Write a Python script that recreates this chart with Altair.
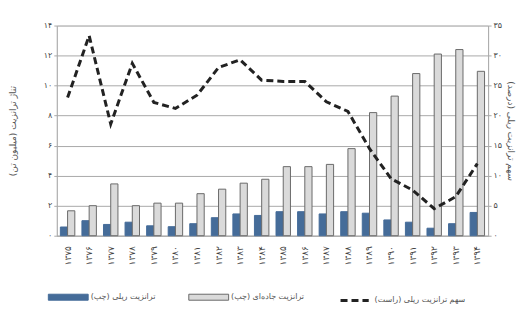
import altair as alt
import pandas as pd

years = ["۱۳۷۵", "۱۳۷۶", "۱۳۷۷", "۱۳۷۸", "۱۳۷۹", "۱۳۸۰", "۱۳۸۱", "۱۳۸۲", "۱۳۸۳", "۱۳۸۴",
         "۱۳۸۵", "۱۳۸۶", "۱۳۸۷", "۱۳۸۸", "۱۳۸۹", "۱۳۹۰", "۱۳۹۱", "۱۳۹۲", "۱۳۹۳", "۱۳۹۴"]
rail = [0.58, 1.0, 0.75, 0.9, 0.66, 0.6, 0.8, 1.2, 1.45, 1.35,
        1.6, 1.6, 1.45, 1.6, 1.5, 1.05, 0.9, 0.5, 0.8, 1.55]
road = [1.66, 2.0, 3.45, 2.0, 2.17, 2.17, 2.8, 3.1, 3.5, 3.76,
        4.6, 4.6, 4.75, 5.8, 8.2, 9.3, 10.8, 12.1, 12.4, 10.95]
share = [23.0, 33.3, 18.6, 28.7, 22.2, 21.2, 23.4, 28.0, 29.3, 25.9,
         25.7, 25.7, 22.3, 20.7, 14.5, 9.5, 7.6, 4.5, 6.5, 12.0]

s_rail = "ترانزیت ریلی (چپ)"
s_road = "ترانزیت جاده‌ای (چپ)"
s_share = "سهم ترانزیت ریلی (راست)"

bars_df = pd.DataFrame(
    [{"year": y, "series": s_rail, "value": v} for y, v in zip(years, rail)]
    + [{"year": y, "series": s_road, "value": v} for y, v in zip(years, road)]
)
line_df = pd.DataFrame({"year": years, "share": share, "series": s_share})

FONT = "DejaVu Sans"
persian_digits = ("replace(replace(replace(replace(replace(replace(replace(replace(replace(replace("
                  "datum.label,regexp('0','g'),'۰'),regexp('1','g'),'۱'),regexp('2','g'),'۲'),"
                  "regexp('3','g'),'۳'),regexp('4','g'),'۴'),regexp('5','g'),'۵'),regexp('6','g'),'۶'),"
                  "regexp('7','g'),'۷'),regexp('8','g'),'۸'),regexp('9','g'),'۹')")

xenc = alt.X("year:N", sort=years, title=None,
             scale=alt.Scale(paddingInner=0.33, paddingOuter=0.165),
             axis=alt.Axis(labelAngle=270, labelFontSize=9, labelColor="#444", labelFont=FONT,
                           labelPadding=10, ticks=False, domainColor="#a8a8a8", labelAlign="right",
                           labelBaseline="middle"))

bar_legend = alt.Legend(title=None, orient="none", legendX=6, legendY=267, direction="horizontal",
                        symbolType="M-4,-0.6H4V0.6H-4Z", symbolSize=100, labelFontSize=8,
                        labelColor="#555", labelFont=FONT, columnPadding=30, labelOffset=17,
                        symbolStrokeWidth=1, labelBaseline="middle")

bars = alt.Chart(bars_df).mark_bar(strokeWidth=1).encode(
    x=xenc,
    xOffset=alt.XOffset("series:N", sort=[s_rail, s_road]),
    y=alt.Y("value:Q", scale=alt.Scale(domain=[0, 14]),
            axis=alt.Axis(values=[0, 2, 4, 6, 8, 10, 12, 14], title="تناژ ترانزیت (میلیون تن)",
                          titleFont=FONT, titleFontSize=9, titleFontWeight="normal", titleColor="#555",
                          labelExpr=persian_digits, labelFontSize=8, labelColor="#444", labelFont=FONT,
                          gridColor="#a8a8a8", domainColor="#a8a8a8", tickColor="#a8a8a8",
                          tickSize=3, titlePadding=26)),
    fill=alt.Fill("series:N", scale=alt.Scale(domain=[s_rail, s_road], range=["#456c99", "#dadada"]),
                  legend=bar_legend),
    stroke=alt.Stroke("series:N", scale=alt.Scale(domain=[s_rail, s_road], range=["#456c99", "#6a6a6a"]),
                      legend=bar_legend),
)

line = alt.Chart(line_df).mark_line(strokeWidth=3, color="#222").encode(
    x=alt.X("year:N", sort=years),
    y=alt.Y("share:Q", scale=alt.Scale(domain=[0, 35]),
            axis=alt.Axis(orient="right", values=[0, 5, 10, 15, 20, 25, 30, 35], grid=False,
                          title="سهم ترانزیت ریلی (درصد)", titleFont=FONT, titleFontSize=9,
                          titleFontWeight="normal", titleColor="#555",
                          labelExpr=persian_digits, labelFontSize=8, labelColor="#444", labelFont=FONT,
                          domainColor="#a8a8a8", tickColor="#a8a8a8", tickSize=3, titlePadding=4)),
    strokeDash=alt.StrokeDash("series:N", scale=alt.Scale(domain=[s_share], range=[[7, 4]]),
                              legend=alt.Legend(title=None, orient="none", legendX=283, legendY=260,
                                                symbolType="stroke", symbolSize=800,
                                                symbolStrokeWidth=3, symbolStrokeColor="#222",
                                                labelFontSize=8, labelColor="#555", labelFont=FONT,
                                                labelOffset=4, labelBaseline="middle")),
)

chart = alt.layer(bars, line).resolve_scale(
    y="independent", fill="independent", stroke="independent", strokeDash="independent"
).properties(
    width=433, height=211,
    autosize=alt.AutoSizeParams(type="none"),
    padding={"left": 49, "top": 17, "right": 28, "bottom": 80},
).configure_view(stroke=None).configure(background="white")

chart.save("out.html", embed_options={"renderer": "svg", "actions": False})
